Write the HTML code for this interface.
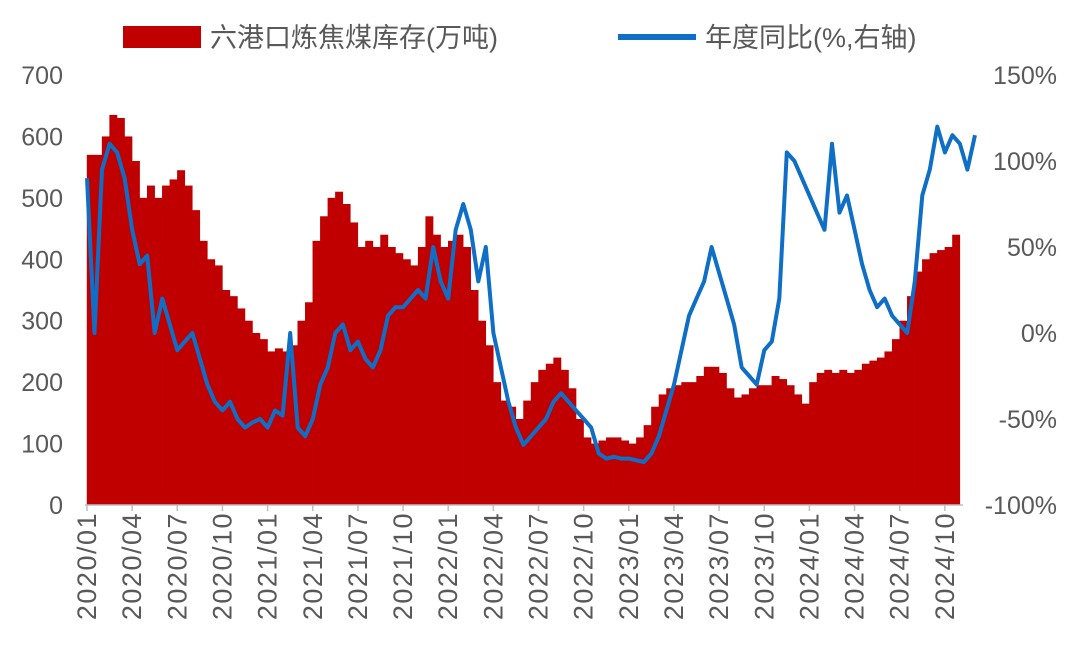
<!DOCTYPE html>
<html><head><meta charset="utf-8">
<style>
body{margin:0;background:#fff;}
svg{display:block;font-family:"Liberation Sans","Noto Sans CJK SC",sans-serif;}
</style></head>
<body>
<svg id="chart" width="1080" height="663" viewBox="0 0 1080 663">
  <g>
    <rect x="123" y="26" width="78" height="22" fill="#C00000"/>
    <text x="210" y="47" font-size="27" fill="#595959">六港口炼焦煤库存(万吨)</text>
    <line x1="618" y1="37" x2="696" y2="37" stroke="#0F6FC6" stroke-width="6"/>
    <text x="705" y="47" font-size="27" fill="#595959">年度同比(%,右轴)</text>
  </g>
  <g id="bars"></g>
  <g id="axes"></g>
  <path id="line" fill="none" stroke="#0F6FC6" stroke-width="4" stroke-linejoin="round"/>
</svg>
<script>
const months = ["2020/01","2020/04","2020/07","2020/10","2021/01","2021/04","2021/07","2021/10","2022/01","2022/04","2022/07","2022/10","2023/01","2023/04","2023/07","2023/10","2024/01","2024/04","2024/07","2024/10"];
const leftTicks = [0,100,200,300,400,500,600,700];
const rightTicks = [-100,-50,0,50,100,150];
const inventory = [570,570,600,635,630,600,560,500,520,500,520,530,545,520,480,430,400,390,350,340,320,300,280,270,250,255,250,260,300,330,430,470,500,510,490,460,420,430,420,440,420,410,400,390,420,470,440,420,430,440,420,350,300,260,200,170,160,140,170,200,220,230,240,220,190,140,110,100,105,110,110,105,100,110,130,160,180,190,195,200,200,210,225,225,215,190,175,180,190,195,195,210,205,195,180,165,200,215,220,215,220,215,220,230,235,240,250,270,300,340,380,400,410,415,420,440];
const yoy = [90,0,95,110,105,90,60,40,45,0,20,5,-10,-5,0,-15,-30,-40,-45,-40,-50,-55,-52,-50,-55,-45,-48,0,-55,-60,-50,-30,-20,0,5,-10,-5,-15,-20,-10,10,15,15,20,25,20,50,30,20,60,75,60,30,50,0,-20,-40,-55,-65,-60,-55,-50,-40,-35,-40,-45,-50,-55,-70,-73,-72,-73,-73,-74,-75,-70,-60,-45,-30,-10,10,20,30,50,35,20,5,-20,-25,-30,-10,-5,20,105,100,90,80,70,60,110,70,80,60,40,25,15,20,10,5,0,30,80,95,120,105,115,110,95,115];

const NS="http://www.w3.org/2000/svg";
const X0=87, PXM=15.05, Y0=505;
const xScale = i => X0 + (i/2)*PXM;
const yL = v => Y0 - v*(430/700);
const yR = v => Y0 - (v+100)*(430/250);
function mk(tag, attrs, parent){const e=document.createElementNS(NS,tag);for(const k in attrs)e.setAttribute(k,attrs[k]);parent.appendChild(e);return e;}

const bars=document.getElementById('bars');
inventory.forEach((v,i)=>{
  const x=xScale(i);
  const r=mk('rect',{x:x-0.2,y:yL(v),width:PXM/2+0.4,height:Y0-yL(v),fill:'#C00000'},bars);
  
  
});

const axes=document.getElementById('axes');
const ax=mk('line',{x1:85,y1:Y0,x2:963,y2:Y0,stroke:'#BFBFBF','stroke-width':1.5},axes);


leftTicks.forEach(t=>{
  const e=mk('text',{x:63,y:yL(t)+9,'font-size':25,fill:'#595959','text-anchor':'end'},axes);
  e.textContent=t;
  
  
});
rightTicks.forEach(t=>{
  const e=mk('text',{x:1057,y:yR(t)+9,'font-size':25,fill:'#595959','text-anchor':'end'},axes);
  e.textContent=t+'%';
  
  
});
months.forEach((m,k)=>{
  const x=X0+k*3*PXM;
  const tk=mk('line',{x1:x,y1:Y0,x2:x,y2:Y0+6,stroke:'#BFBFBF','stroke-width':1.5},axes);
  
  
  const e=mk('text',{x:0,y:0,'font-size':27,'letter-spacing':1.5,fill:'#595959','text-anchor':'end',transform:`translate(${x+9},512) rotate(-90)`},axes);
  e.textContent=m;
  
  
});

document.getElementById('line').setAttribute('d', yoy.map((v,i)=>(i?'L':'M')+xScale(i).toFixed(1)+','+yR(v).toFixed(1)).join(' '));
</script>
</body></html>
